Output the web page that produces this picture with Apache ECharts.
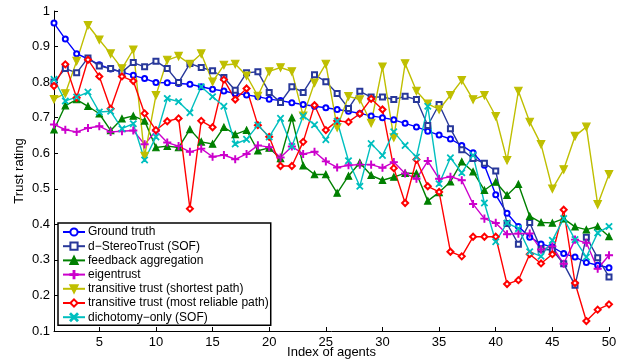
<!DOCTYPE html>
<html>
<head>
<meta charset="utf-8">
<script src="https://cdn.jsdelivr.net/npm/echarts@6/dist/echarts.min.js"></script>
<style>
  html, body { margin: 0; padding: 0; background: #fff; }
  #chart { width: 627px; height: 364px; }
</style>
</head>
<body>
<div id="chart"></div>
<script>
// agent indices (x axis)
var agents = [1,2,3,4,5,6,7,8,9,10,11,12,13,14,15,16,17,18,19,20,21,22,23,24,25,
  26,27,28,29,30,31,32,33,34,35,36,37,38,39,40,41,42,43,44,45,46,47,48,49,50];

var groundTruth = [0.966,0.921,0.880,0.865,0.849,0.837,0.828,0.819,0.810,0.799,
  0.798,0.796,0.794,0.787,0.780,0.775,0.768,0.764,0.759,0.752,
  0.748,0.742,0.737,0.732,0.728,0.723,0.718,0.712,0.705,0.700,
  0.694,0.684,0.674,0.662,0.651,0.640,0.622,0.601,0.566,0.483,
  0.431,0.394,0.364,0.345,0.336,0.318,0.308,0.293,0.285,0.278];

var dStereo = [0.800,0.838,0.826,0.868,0.845,0.838,0.828,0.855,0.843,0.859,
  0.838,0.799,0.852,0.841,0.832,0.813,0.777,0.826,0.829,0.771,
  0.743,0.787,0.771,0.821,0.801,0.768,0.726,0.774,0.758,0.758,
  0.751,0.760,0.751,0.678,0.737,0.669,0.610,0.585,0.572,0.550,
  0.402,0.344,0.405,0.330,0.328,0.289,0.229,0.364,0.306,0.252];

var feedback = [0.666,0.734,0.751,0.732,0.711,0.664,0.697,0.705,0.691,0.616,
  0.620,0.616,0.667,0.632,0.626,0.673,0.653,0.665,0.607,0.615,
  0.585,0.700,0.565,0.540,0.540,0.488,0.536,0.573,0.538,0.524,
  0.533,0.544,0.543,0.466,0.490,0.520,0.576,0.548,0.496,0.519,
  0.482,0.513,0.423,0.405,0.404,0.416,0.393,0.385,0.394,0.366];

var eigentrust = [0.681,0.666,0.660,0.671,0.676,0.660,0.662,0.664,0.625,0.663,
  0.630,0.620,0.604,0.613,0.590,0.595,0.583,0.598,0.622,0.617,
  0.588,0.619,0.598,0.604,0.577,0.560,0.566,0.568,0.568,0.559,
  0.575,0.543,0.528,0.578,0.528,0.534,0.524,0.457,0.416,0.404,
  0.372,0.374,0.374,0.329,0.338,0.289,0.357,0.348,0.275,0.313];

var shortestPath = [0.752,0.768,0.859,0.960,0.919,0.880,0.838,0.891,0.592,0.763,
  0.862,0.873,0.851,0.880,0.801,0.848,0.851,0.818,0.761,0.830,
  0.841,0.830,0.705,0.798,0.851,0.672,0.760,0.751,0.685,0.843,
  0.644,0.852,0.775,0.739,0.723,0.763,0.805,0.751,0.763,0.704,
  0.580,0.775,0.688,0.625,0.500,0.554,0.648,0.674,0.456,0.541];

var reliablePath = [0.789,0.850,0.756,0.863,0.816,0.725,0.816,0.803,0.712,0.665,
  0.690,0.698,0.444,0.691,0.673,0.807,0.751,0.782,0.679,0.646,
  0.564,0.564,0.632,0.735,0.665,0.691,0.688,0.711,0.753,0.723,
  0.558,0.460,0.582,0.507,0.491,0.323,0.310,0.365,0.365,0.365,
  0.232,0.243,0.316,0.290,0.316,0.441,0.235,0.128,0.160,0.175];

var dichotomy = [0.808,0.747,0.758,0.772,0.716,0.718,0.669,0.683,0.581,0.646,
  0.754,0.745,0.714,0.787,0.759,0.732,0.626,0.639,0.679,0.646,
  0.698,0.619,0.705,0.680,0.638,0.690,0.579,0.507,0.627,0.594,
  0.660,0.622,0.589,0.732,0.514,0.587,0.545,0.594,0.460,0.351,
  0.404,0.388,0.323,0.310,0.355,0.416,0.357,0.308,0.376,0.394];

var yTicks = { min: 0.1, max: 1, interval: 0.1 };

var font = '"Liberation Sans", Arial, sans-serif';
var plusPath = 'path://M4.4,0h1.2v4.4h4.4v1.2h-4.4v4.4h-1.2v-4.4h-4.4v-1.2h4.4z';
var crossPath = 'path://M0.8,0L5,4.2L9.2,0L10,0.8L5.8,5L10,9.2L9.2,10L5,5.8L0.8,10L0,9.2L4.2,5L0,0.8z';

function mk(name, data, color, symbol, size, extra) {
  var s = {
    name: name,
    type: 'line',
    data: data,
    symbol: symbol,
    symbolSize: size,
    showAllSymbol: true,
    animation: false,
    lineStyle: { color: color, width: 1.4 },
    itemStyle: { color: color, borderColor: color, borderWidth: 1.1 }
  };
  for (var k in extra) s[k] = extra[k];
  return s;
}

var chart = echarts.init(document.getElementById('chart'));
chart.setOption({
  backgroundColor: '#fff',
  animation: false,
  grid: { left: 54, right: 18, top: 11, bottom: 33, containLabel: false, outerBoundsMode: 'none' },
  legend: {
    orient: 'vertical',
    left: 58,
    top: 223,
    padding: [3, 2, 2, 4],
    itemWidth: 22,
    itemHeight: 9,
    itemGap: 2.2,
    backgroundColor: '#fff',
    borderColor: '#000',
    borderWidth: 1.5,
    borderRadius: 0,
    textStyle: { fontFamily: font, fontSize: 12, color: '#000', padding: [0, 0, 0, -2] },
    data: ['Ground truth', 'd\u2212StereoTrust (SOF)', 'feedback aggregation', 'eigentrust',
      'transitive trust (shortest path)', 'transitive trust (most reliable path)', 'dichotomy\u2212only (SOF)']
  },
  xAxis: {
    type: 'category',
    data: agents,
    boundaryGap: false,
    name: 'Index of agents',
    nameLocation: 'middle',
    nameGap: 15,
    nameMoveOverlap: false,
    nameTextStyle: { fontFamily: font, fontSize: 13, color: '#000' },
    axisLine: { lineStyle: { color: '#000', width: 1 } },
    axisTick: { inside: true, length: 4, lineStyle: { color: '#000' },
      interval: function (i) { return (i + 1) % 5 === 0; } },
    axisLabel: { fontFamily: font, fontSize: 13, color: '#000', margin: 5,
      interval: function (i) { return (i + 1) % 5 === 0; } },
    splitLine: { show: false }
  },
  yAxis: {
    type: 'value',
    min: yTicks.min,
    max: yTicks.max,
    interval: yTicks.interval,
    name: 'Trust rating',
    nameLocation: 'middle',
    nameGap: 28,
    nameMoveOverlap: false,
    nameTextStyle: { fontFamily: font, fontSize: 13, color: '#000' },
    axisLine: { show: true, lineStyle: { color: '#000', width: 1 } },
    axisTick: { show: true, inside: true, length: 4, lineStyle: { color: '#000' } },
    axisLabel: { fontFamily: font, fontSize: 13, color: '#000', margin: 4 },
    splitLine: { show: false }
  },
  series: [
    mk('Ground truth', groundTruth, '#0000ff', 'emptyCircle', 5),
    mk('d\u2212StereoTrust (SOF)', dStereo, '#28389a', 'emptyRect', 5),
    mk('feedback aggregation', feedback, '#008000', 'triangle', 6.5),
    mk('eigentrust', eigentrust, '#cc00cc', plusPath, 7),
    mk('transitive trust (shortest path)', shortestPath, '#bfbf00', 'triangle', 7.5, { symbolRotate: 180 }),
    mk('transitive trust (most reliable path)', reliablePath, '#ff0000', 'emptyDiamond', 6),
    mk('dichotomy\u2212only (SOF)', dichotomy, '#00bfbf', crossPath, 6)
  ]
});
</script>
</body>
</html>
